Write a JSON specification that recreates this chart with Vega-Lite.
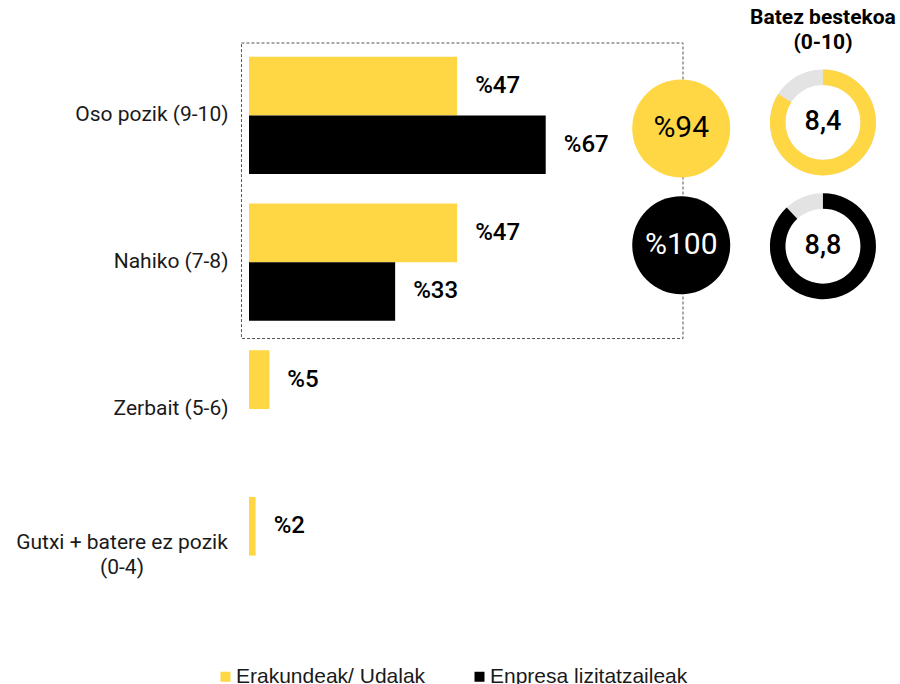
{
  "$schema": "https://vega.github.io/schema/vega-lite/v6.json",
  "width": 651,
  "height": 587,
  "autosize": {"type": "none"},
  "padding": {"left": 249, "top": 42, "right": 0, "bottom": 55},
  "background": "white",
  "config": {"view": {"stroke": null}, "font": "Roboto"},
  "datasets": {
    "bars": [
      {"cat": "Oso pozik (9-10)", "series": "Erakundeak/ Udalak", "value": 47},
      {"cat": "Oso pozik (9-10)", "series": "Enpresa lizitatzaileak", "value": 67},
      {"cat": "Nahiko (7-8)", "series": "Erakundeak/ Udalak", "value": 47},
      {"cat": "Nahiko (7-8)", "series": "Enpresa lizitatzaileak", "value": 33},
      {"cat": "Zerbait (5-6)", "series": "Erakundeak/ Udalak", "value": 4.6},
      {"cat": "Gutxi + batere ez pozik (0-4)", "series": "Erakundeak/ Udalak", "value": 1.5}
    ],
    "summary": [
      {"cat": "Oso pozik (9-10)", "series": "Erakundeak/ Udalak", "total": 94, "avg": 8.4},
      {"cat": "Nahiko (7-8)", "series": "Enpresa lizitatzaileak", "total": 100, "avg": 8.8}
    ]
  },
  "encoding": {
    "y": {
      "field": "cat",
      "type": "nominal",
      "sort": null,
      "scale": {
        "domain": ["Oso pozik (9-10)", "Nahiko (7-8)", "Zerbait (5-6)", "Gutxi + batere ez pozik (0-4)"],
        "paddingInner": 0.2,
        "paddingOuter": 0.1
      },
      "axis": {
        "title": null,
        "domain": false,
        "ticks": false,
        "tickSize": 0,
        "labelFont": "Roboto",
        "labelFontSize": 21,
        "labelColor": "#1a1a1a",
        "labelLimit": 0,
        "labelLineHeight": 25,
        "labelPadding": {"condition": {"test": "datum.value == 'Gutxi + batere ez pozik (0-4)'", "value": 127.5}, "value": 21},
        "labelOffset": {"condition": {"test": "datum.value == 'Gutxi + batere ez pozik (0-4)'", "value": -12.5}, "value": 0},
        "labelAlign": {"condition": {"test": "datum.value == 'Gutxi + batere ez pozik (0-4)'", "value": "center"}, "value": "right"},
        "labelExpr": "datum.value == 'Gutxi + batere ez pozik (0-4)' ? ['Gutxi + batere ez pozik', '(0-4)'] : datum.value"
      }
    }
  },
  "layer": [
    {
      "data": {"values": [{"cat": "Oso pozik (9-10)"}]},
      "mark": {"type": "bar", "fill": "white", "fillOpacity": 0, "stroke": "#555555", "strokeWidth": 1, "strokeDash": [3, 2], "height": 295.5, "yOffset": 75.4},
      "encoding": {
        "x": {"datum": -1.7, "type": "quantitative", "scale": {"domain": [0, 147], "nice": false, "zero": false}, "axis": null},
        "x2": {"datum": 98.0}
      }
    },
    {
      "data": {"name": "bars"},
      "mark": {"type": "bar"},
      "encoding": {
        "x": {"field": "value", "type": "quantitative", "scale": {"domain": [0, 147], "nice": false, "zero": false}, "axis": null},
        "yOffset": {"field": "series", "type": "nominal", "scale": {"domain": ["Erakundeak/ Udalak", "Enpresa lizitatzaileak"], "paddingInner": 0, "paddingOuter": 0}},
        "color": {
          "field": "series",
          "type": "nominal",
          "scale": {"domain": ["Erakundeak/ Udalak", "Enpresa lizitatzaileak"], "range": ["#FFD745", "#000000"]},
          "legend": {
            "title": null,
            "orient": "none",
            "legendX": -34,
            "legendY": 624,
            "direction": "horizontal",
            "symbolType": "square",
            "symbolSize": 100,
            "symbolStrokeWidth": 0,
            "labelFont": "Liberation Sans",
            "labelFontSize": 21,
            "labelColor": "#1a1a1a",
            "labelOffset": 0,
            "columnPadding": 43,
            "labelLimit": 0
          }
        }
      }
    },
    {
      "data": {"name": "bars"},
      "transform": [{"calculate": "'%' + round(datum.value)", "as": "label"}],
      "mark": {"type": "text", "align": "left", "baseline": "middle", "dx": 18, "fontSize": 24, "fontWeight": 500, "fill": "#000000"},
      "encoding": {
        "x": {"field": "value", "type": "quantitative"},
        "yOffset": {"field": "series", "type": "nominal"},
        "text": {"field": "label"}
      }
    },
    {
      "data": {"name": "summary"},
      "mark": {"type": "circle", "size": 9604, "opacity": 1, "yOffset": {"expr": "datum.series == 'Erakundeak/ Udalak' ? 13 : -17"}},
      "encoding": {
        "x": {"datum": 97.6, "type": "quantitative"},
        "color": {"field": "series", "type": "nominal"}
      }
    },
    {
      "data": {"name": "summary"},
      "transform": [{"calculate": "'%' + datum.total", "as": "tlabel"}],
      "mark": {"type": "text", "align": "center", "baseline": "middle", "fontSize": 30, "fontWeight": 400, "yOffset": {"expr": "datum.series == 'Erakundeak/ Udalak' ? 13 : -17"}},
      "encoding": {
        "x": {"datum": 97.6, "type": "quantitative"},
        "text": {"field": "tlabel"},
        "color": {"condition": {"test": "datum.series == 'Enpresa lizitatzaileak'", "value": "#ffffff"}, "value": "#000000"}
      }
    },
    {
      "data": {"name": "summary"},
      "mark": {"type": "point", "shape": "circle", "filled": false, "size": 8190, "stroke": "#E3E3E3", "strokeWidth": 15.5, "opacity": 1, "yOffset": {"expr": "datum.series == 'Erakundeak/ Udalak' ? 7 : -16"}},
      "encoding": {
        "x": {"datum": 129.6, "type": "quantitative"}
      }
    },
    {
      "data": {"name": "summary"},
      "mark": {"type": "arc", "radius": 53, "radius2": 37.5, "yOffset": {"expr": "datum.series == 'Erakundeak/ Udalak' ? 7 : -16"}},
      "encoding": {
        "x": {"datum": 129.6, "type": "quantitative"},
        "theta": {"field": "avg", "type": "quantitative", "stack": null, "scale": {"domain": [0, 10], "range": [0, 6.283185307179586], "zero": true, "nice": false}},
        "color": {"field": "series", "type": "nominal"}
      }
    },
    {
      "data": {"name": "summary"},
      "transform": [{"calculate": "replace(format(datum.avg, '.1f'), '.', ',')", "as": "alabel"}],
      "mark": {"type": "text", "align": "center", "baseline": "middle", "fontSize": 27, "fontWeight": 500, "fill": "#000000", "yOffset": {"expr": "datum.series == 'Erakundeak/ Udalak' ? 7 : -16"}},
      "encoding": {
        "x": {"datum": 129.6, "type": "quantitative"},
        "text": {"field": "alabel"}
      }
    },
    {
      "data": {"values": [{"cat": "Oso pozik (9-10)"}]},
      "mark": {"type": "text", "align": "center", "baseline": "middle", "fontSize": 21, "fontWeight": "bold", "fill": "#000000", "lineHeight": 25, "yOffset": -97},
      "encoding": {
        "x": {"datum": 129.6, "type": "quantitative"},
        "text": {"value": ["Batez bestekoa", "(0-10)"]}
      }
    }
  ]
}
